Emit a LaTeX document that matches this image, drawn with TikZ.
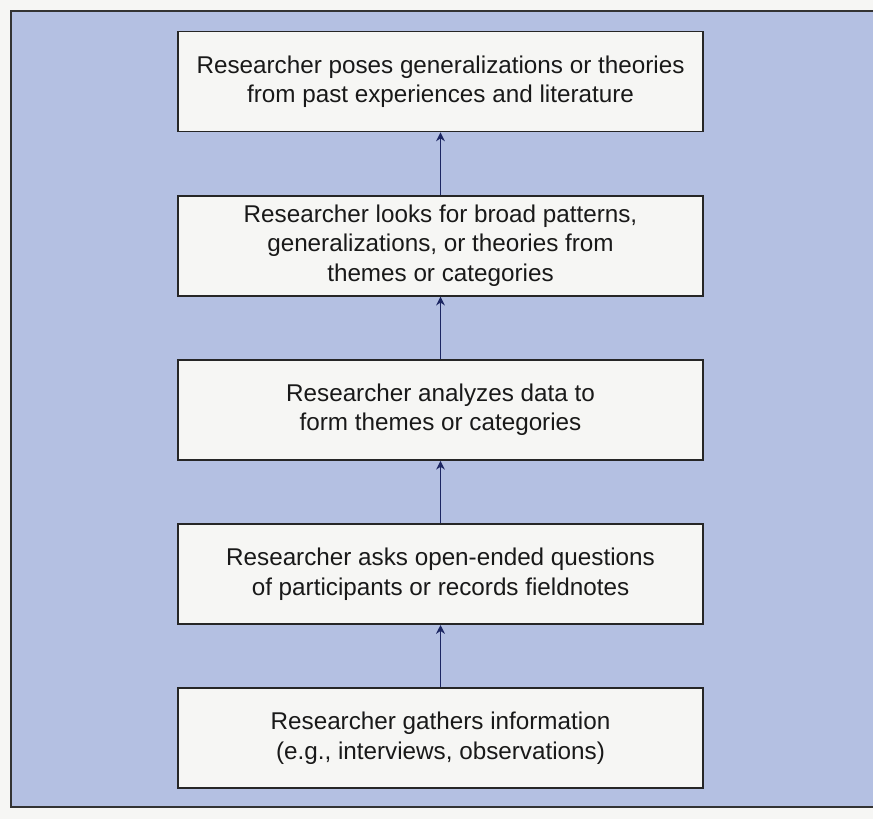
\documentclass[tikz,border=0pt]{standalone}
\usepackage{xcolor}
\usepackage{fontspec}
\setmainfont{Liberation Sans}
\usepackage{tikz}
\usetikzlibrary{positioning, arrows.meta}
\newcommand{\boxfont}{\fontsize{13.8pt}{16.8pt}\selectfont}
\definecolor{panelblue}{RGB}{180, 192, 226}
\definecolor{paperwhite}{RGB}{246, 246, 244}
\definecolor{arrownavy}{RGB}{28, 38, 98}
\tikzset{
  % Step box
  stepbox/.style={
    rectangle,
    minimum width=10.5cm, minimum height=2.0cm,
    fill=paperwhite, draw=black!85, line width=1.1pt,
    font=\boxfont, align=center, text=black!90
  },
  % Upward arrow
  arr/.style={-{Stealth[length=5pt, width=5pt]}, line width=0.8pt, color=arrownavy},
}
\begin{document}
\begin{tikzpicture}[node distance=1.245cm]
  % page and panel
  \fill[paperwhite] (0,0) rectangle (17.46,-16.38);
  \useasboundingbox (0,0) rectangle (17.46,-16.38);
  \begin{scope}
    \clip (0,0) rectangle (17.46,-16.38);
    \filldraw[fill=panelblue, draw=black!80, line width=1pt] (0.22,-0.22) rectangle (17.9,-16.14);
  \end{scope}
  \node[stepbox] (pose) at (8.81,-1.63) {Researcher poses generalizations or theories\\from past experiences and literature};
  \node[stepbox, below=of pose] (look) {Researcher looks for broad patterns,\\generalizations, or theories from\\themes or categories};
  \node[stepbox, below=of look] (analyze) {Researcher analyzes data to\\form themes or categories};
  \node[stepbox, below=of analyze] (ask) {Researcher asks open-ended questions\\of participants or records fieldnotes};
  \node[stepbox, below=of ask] (gather) {Researcher gathers information\\(e.g., interviews, observations)};
  \draw[arr] (gather) -- (ask);
  \draw[arr] (ask) -- (analyze);
  \draw[arr] (analyze) -- (look);
  \draw[arr] (look) -- (pose);
\end{tikzpicture}
\end{document}
